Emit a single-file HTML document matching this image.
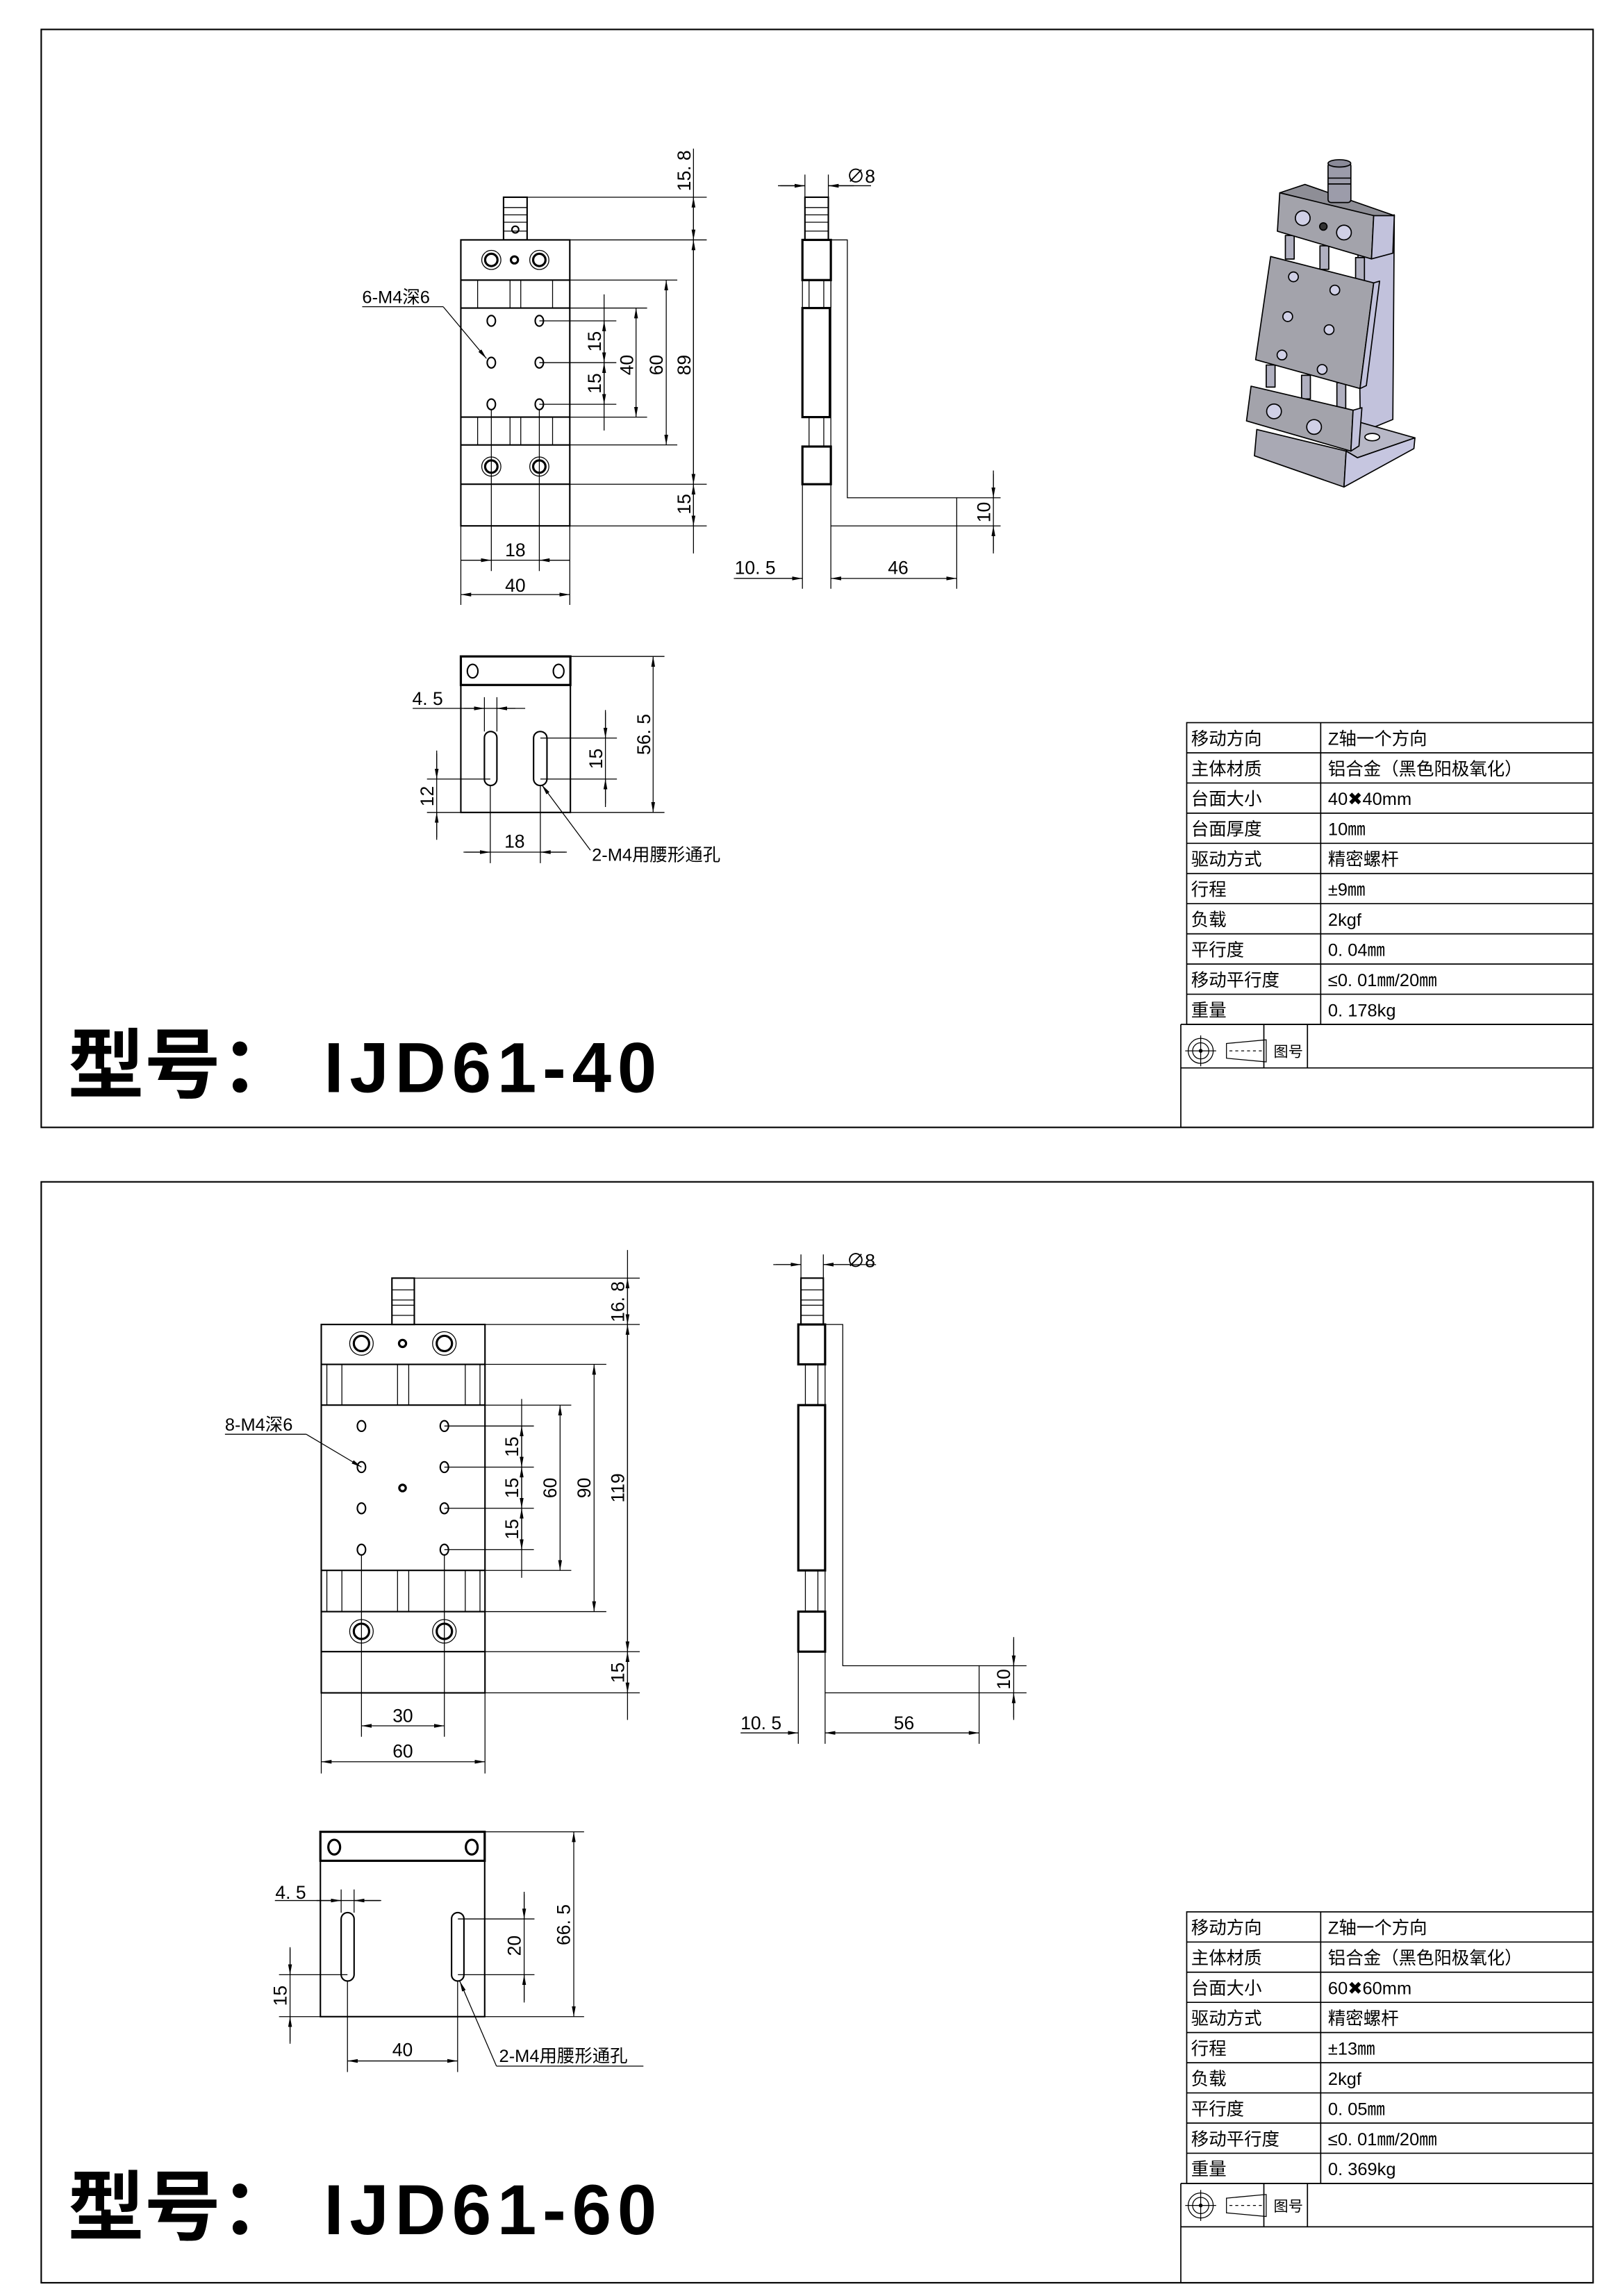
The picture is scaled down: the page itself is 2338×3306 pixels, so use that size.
<!DOCTYPE html>
<html><head><meta charset="utf-8">
<style>
html,body{margin:0;padding:0;background:#fff;}
svg{display:block;}
text{font-family:"Liberation Sans","Noto Sans CJK SC",sans-serif;fill:#000;}
.l{stroke:#000;stroke-width:0.6;fill:none;}
.b{stroke:#000;stroke-width:1;fill:none;}
.bb{stroke:#000;stroke-width:1.5;fill:none;}
.d{font-size:12.5px;}
.t{font-size:12px;font-family:"Liberation Sans","Noto Sans CJK SC",sans-serif;}
.iso{stroke:#000;stroke-width:0.8;stroke-linejoin:round;}
</style></head>
<body>
<svg width="2338" height="3306" viewBox="0 0 1103 1560" preserveAspectRatio="none" xmlns="http://www.w3.org/2000/svg">
<defs>
<marker id="a" markerUnits="userSpaceOnUse" markerWidth="7" markerHeight="3" refX="7" refY="1.3" orient="auto-start-reverse" viewBox="0 0 7 2.6"><path d="M0,0 L7,1.3 L0,2.6 z" fill="#000"/></marker>
</defs>
<rect width="1103" height="1560" fill="#fff"/>

<!-- ============ TOP SHEET ============ -->
<rect x="28" y="20" width="1054" height="746" class="b"/>

<!-- front view -->
<rect x="342" y="134" width="16" height="29" class="b" fill="#fff"/>
<path class="l" d="M342,141H358M342,146H358M342,151H358M342,157H358"/>
<circle cx="350" cy="156" r="2.3" class="b"/>
<rect x="313" y="163" width="74" height="194.3" class="b"/>
<path class="b" d="M313,190.3H387M313,209.3H387M313,283.4H387M313,302.3H387M313,329H387"/>
<path class="l" d="M324.4,190.3V209.3M346.4,190.3V209.3M353.7,190.3V209.3M375.3,190.3V209.3M324.4,283.4V302.3M346.4,283.4V302.3M353.7,283.4V302.3M375.3,283.4V302.3"/>
<circle cx="333.7" cy="176.6" r="6.5" class="l"/><circle cx="333.7" cy="176.6" r="4.2" class="bb"/>
<circle cx="366.3" cy="176.6" r="6.5" class="l"/><circle cx="366.3" cy="176.6" r="4.2" class="bb"/>
<circle cx="349.4" cy="176.6" r="2.4" class="bb"/>
<circle cx="333.7" cy="317" r="6.5" class="l"/><circle cx="333.7" cy="317" r="4.2" class="bb"/>
<circle cx="366.3" cy="317" r="6.5" class="l"/><circle cx="366.3" cy="317" r="4.2" class="bb"/>
<g class="b">
<ellipse cx="333.7" cy="218" rx="2.8" ry="3.6"/><ellipse cx="366.3" cy="218" rx="2.8" ry="3.6"/>
<ellipse cx="333.7" cy="246.4" rx="2.8" ry="3.6"/><ellipse cx="366.3" cy="246.4" rx="2.8" ry="3.6"/>
<ellipse cx="333.7" cy="274.7" rx="2.8" ry="3.6"/><ellipse cx="366.3" cy="274.7" rx="2.8" ry="3.6"/>
</g>
<!-- right dims -->
<path class="l" d="M358,134H480M387,163H480M387,329H480M387,357.3H480M387,190.3H460M387,302.3H460M387,209.3H439.5M387,283.4H439.5M366.3,218H418.6M366.3,246.4H418.6M366.3,274.7H418.6"/>
<path class="l" d="M471,101V376M410.3,200V292.5"/>
<line x1="471" y1="134" x2="471" y2="163" class="l" marker-start="url(#a)" marker-end="url(#a)"/>
<line x1="471" y1="163" x2="471" y2="329" class="l" marker-start="url(#a)" marker-end="url(#a)"/>
<line x1="471" y1="329" x2="471" y2="357.3" class="l" marker-start="url(#a)" marker-end="url(#a)"/>
<line x1="452.5" y1="190.3" x2="452.5" y2="302.3" class="l" marker-start="url(#a)" marker-end="url(#a)"/>
<line x1="432" y1="209.3" x2="432" y2="283.4" class="l" marker-start="url(#a)" marker-end="url(#a)"/>
<line x1="410.3" y1="218" x2="410.3" y2="246.4" class="l" marker-start="url(#a)" marker-end="url(#a)"/>
<line x1="410.3" y1="246.4" x2="410.3" y2="274.7" class="l" marker-start="url(#a)" marker-end="url(#a)"/>
<g class="d" text-anchor="middle">
<text transform="translate(469,116) rotate(-90)">15. 8</text>
<text transform="translate(469,248) rotate(-90)">89</text>
<text transform="translate(469,342.5) rotate(-90)">15</text>
<text transform="translate(450,248) rotate(-90)">60</text>
<text transform="translate(430,248) rotate(-90)">40</text>
<text transform="translate(408,232) rotate(-90)">15</text>
<text transform="translate(408,260.5) rotate(-90)">15</text>
</g>
<!-- bottom dims -->
<path class="l" d="M333.7,278V388M366.3,278V388M313,357V411M387,357V411M313,380.6H387"/>
<line x1="313" y1="380.6" x2="333.7" y2="380.6" class="l" marker-end="url(#a)"/>
<line x1="387" y1="380.6" x2="366.3" y2="380.6" class="l" marker-end="url(#a)"/>
<line x1="313" y1="404" x2="387" y2="404" class="l" marker-start="url(#a)" marker-end="url(#a)"/>
<text x="350" y="378" class="d" text-anchor="middle">18</text>
<text x="350" y="402" class="d" text-anchor="middle">40</text>
<!-- leader -->
<text x="246" y="206" class="t">6-M4深6</text>
<path class="l" d="M246,208.4H301"/>
<line x1="301" y1="208.4" x2="330.4" y2="243.6" class="l" marker-end="url(#a)"/>

<!-- side view top -->
<rect x="546.7" y="134" width="15.9" height="29" class="b" fill="#fff"/>
<path class="l" d="M546.7,141H562.6M546.7,146H562.6M546.7,151H562.6M546.7,157H562.6"/>
<path class="l" d="M546.7,134V118.6M562.6,134V118.6M528.4,126.2H546.7M562.6,126.2H591.6"/>
<line x1="530" y1="126.2" x2="546.7" y2="126.2" class="l" marker-end="url(#a)"/>
<line x1="580" y1="126.2" x2="562.6" y2="126.2" class="l" marker-end="url(#a)"/>
<text x="575" y="124" class="d">∅8</text>
<rect x="545" y="163" width="19.3" height="27.3" class="bb"/>
<path class="l" d="M549.5,190.3V209.3M559.5,190.3V209.3M545,190.3V209.3M564.3,190.3V209.3"/>
<rect x="545" y="209.3" width="18.6" height="74.1" class="bb"/>
<path class="l" d="M549.5,283.4V303.4M559.5,283.4V303.4"/>
<rect x="545" y="303.4" width="19.3" height="25.6" class="bb"/>
<path class="l" d="M545,329V400M564.3,163V400M564.3,163H575.5V338.2H649.8V400M564.3,357.3H649.8"/>
<path class="l" d="M649.8,338.2H679.6M649.8,357.3H679.6M674.7,319.7V376"/>
<line x1="674.7" y1="322" x2="674.7" y2="338.2" class="l" marker-end="url(#a)"/>
<line x1="674.7" y1="374" x2="674.7" y2="357.3" class="l" marker-end="url(#a)"/>
<text transform="translate(672.5,348) rotate(-90)" class="d" text-anchor="middle">10</text>
<path class="l" d="M498.4,393H545"/>
<line x1="500" y1="393" x2="545" y2="393" class="l" marker-end="url(#a)"/>
<line x1="564.3" y1="393" x2="649.8" y2="393" class="l" marker-start="url(#a)" marker-end="url(#a)"/>
<text x="499" y="390" class="d">10. 5</text>
<text x="610" y="390" class="d" text-anchor="middle">46</text>

<!-- bottom view top -->
<rect x="313" y="446" width="74.4" height="106" class="b"/>
<rect x="313" y="446" width="74.4" height="19.4" class="bb"/>
<ellipse cx="321" cy="456" rx="3.6" ry="4.6" class="b"/>
<ellipse cx="379.4" cy="456" rx="3.6" ry="4.6" class="b"/>
<rect x="329" y="497" width="8.5" height="36.7" rx="4.25" class="b"/>
<rect x="362.4" y="497" width="9.1" height="36.7" rx="4.5" class="b"/>
<path class="l" d="M329,473.7V497M337.5,473.7V497M280.3,481.3H356.7"/>
<line x1="315" y1="481.3" x2="329" y2="481.3" class="l" marker-end="url(#a)"/>
<line x1="350" y1="481.3" x2="337.5" y2="481.3" class="l" marker-end="url(#a)"/>
<text x="280" y="479" class="d">4. 5</text>
<path class="l" d="M290,529.3H333M290,552H313M296.6,510V570.6"/>
<line x1="296.6" y1="512" x2="296.6" y2="529.3" class="l" marker-end="url(#a)"/>
<line x1="296.6" y1="569" x2="296.6" y2="552" class="l" marker-end="url(#a)"/>
<text transform="translate(294.5,541) rotate(-90)" class="d" text-anchor="middle">12</text>
<path class="l" d="M367,501.5H419M367,529.3H419M411.2,482.4V548.3"/>
<line x1="411.2" y1="484" x2="411.2" y2="501.5" class="l" marker-end="url(#a)"/>
<line x1="411.2" y1="546" x2="411.2" y2="529.3" class="l" marker-end="url(#a)"/>
<text transform="translate(409,515.5) rotate(-90)" class="d" text-anchor="middle">15</text>
<path class="l" d="M387.4,446H451.3M387.4,552H451.3"/>
<line x1="443.6" y1="446" x2="443.6" y2="552" class="l" marker-start="url(#a)" marker-end="url(#a)"/>
<text transform="translate(441.5,499) rotate(-90)" class="d" text-anchor="middle">56. 5</text>
<path class="l" d="M333,533.7V586.5M367,533.7V586.5M314.8,579H385"/>
<line x1="316" y1="579" x2="333" y2="579" class="l" marker-end="url(#a)"/>
<line x1="384" y1="579" x2="367" y2="579" class="l" marker-end="url(#a)"/>
<text x="349.5" y="576" class="d" text-anchor="middle">18</text>
<line x1="401" y1="577.7" x2="368" y2="533.3" class="l" marker-end="url(#a)"/>
<text x="402" y="585" class="t">2-M4用腰形通孔</text>

<!-- 3D iso -->
<g class="iso">
<polygon points="933,148 947,146 946,285 924,294 922,150" fill="#c2c2dc"/>
<polygon points="853.6,291.8 914.3,306.5 912.8,330.9 852,309.7" fill="#a9a9b4"/>
<polygon points="914.3,306.5 923.7,286.9 961,297.5 922,311" fill="#b7b7c6"/>
<polygon points="922,311 961,297.5 960.3,304.8 912.8,330.9 914.3,306.5" fill="#c6c6e0"/>
<ellipse cx="932" cy="297" rx="5" ry="2.5" fill="#fff"/>
<rect x="873" y="160" width="6" height="16" fill="#b0b0c0"/>
<rect x="896.5" y="167" width="6" height="16" fill="#b0b0c0"/>
<rect x="920.7" y="175" width="6" height="16" fill="#b0b0c0"/>
<rect x="860" y="248" width="6" height="15" fill="#b0b0c0"/>
<rect x="884" y="255" width="6" height="16" fill="#b0b0c0"/>
<rect x="908" y="260" width="6" height="19" fill="#b0b0c0"/>
<polygon points="869.2,131 886.3,125.3 947,146.5 933,147" fill="#8e8e96"/>
<polygon points="869.2,131 933,146.5 931.5,175.9 867.6,157.1" fill="#a3a3ab"/>
<polygon points="933,146.5 947,146.5 946,172 931.5,175.9" fill="#c2c2dc"/>
<polygon points="863,174.3 933,192.2 923.7,264 852.8,244.4" fill="#a3a3ab"/>
<polygon points="933,192.2 937,191 928,262 923.7,264" fill="#c2c2dc"/>
<polygon points="849.7,262.4 919,278.7 917.5,306.5 846.6,286" fill="#a3a3ab"/>
<polygon points="919,278.7 925,277 923,303 917.5,306.5" fill="#c2c2dc"/>
<rect x="902" y="110.6" width="15.5" height="27" rx="2" fill="#9c9caa"/>
<ellipse cx="909.7" cy="111" rx="7.7" ry="2.5" fill="#8a8a98"/>
<path d="M902,121H917.5M902,125H917.5" fill="none"/>
<circle cx="884.8" cy="148.2" r="5" fill="#d0d0e6"/><circle cx="912.8" cy="158" r="5" fill="#d0d0e6"/>
<circle cx="898.8" cy="153.9" r="2.5" fill="#333"/>
<circle cx="878.5" cy="188.1" r="3.3" fill="#d0d0e6"/><circle cx="906.6" cy="197.1" r="3.3" fill="#d0d0e6"/>
<circle cx="874.6" cy="215.1" r="3.3" fill="#d0d0e6"/><circle cx="902.7" cy="224" r="3.3" fill="#d0d0e6"/>
<circle cx="870.7" cy="241.2" r="3.3" fill="#d0d0e6"/><circle cx="898" cy="251" r="3.3" fill="#d0d0e6"/>
<circle cx="865.3" cy="279.5" r="5" fill="#d0d0e6"/><circle cx="892.5" cy="290.1" r="5" fill="#d0d0e6"/>
</g>

<!-- table top -->
<g class="l" style="stroke-width:0.8">
<rect x="806" y="491" width="276" height="205"/>
<path d="M897,491V696M806,511.5H1082M806,532H1082M806,552.5H1082M806,573H1082M806,593.5H1082M806,614H1082M806,634.5H1082M806,655H1082M806,675.5H1082"/>
<path d="M802,696H1082M802,696V766M802,725.6H1082M858.4,696V725.6M888,696V725.6"/>
</g>
<g class="t">
<text x="809" y="506">移动方向</text><text x="902" y="506">Z轴一个方向</text>
<text x="809" y="526.5">主体材质</text><text x="902" y="526.5">铝合金（黑色阳极氧化）</text>
<text x="809" y="547">台面大小</text><text x="902" y="547">40✖40mm</text>
<text x="809" y="567.5">台面厚度</text><text x="902" y="567.5">10㎜</text>
<text x="809" y="588">驱动方式</text><text x="902" y="588">精密螺杆</text>
<text x="809" y="608.5">行程</text><text x="902" y="608.5">±9㎜</text>
<text x="809" y="629">负载</text><text x="902" y="629">2kgf</text>
<text x="809" y="649.5">平行度</text><text x="902" y="649.5">0. 04㎜</text>
<text x="809" y="670">移动平行度</text><text x="902" y="670">≤0. 01㎜/20㎜</text>
<text x="809" y="690.5">重量</text><text x="902" y="690.5">0. 178kg</text>
</g>
<g class="l">
<circle cx="815.5" cy="714" r="8.5"/><circle cx="815.5" cy="714" r="5.5"/><circle cx="815.5" cy="714" r="1" fill="#000"/>
<path d="M805,714H826M815.5,703.5V724.5"/>
<polygon points="833,709 860,706.5 860,721.5 833,719"/>
<path d="M835,714H858" stroke-dasharray="2,2"/>
</g>
<text x="865" y="718" style="font-size:10px">图号</text>
<text x="46" y="742" style="font-size:52px;font-weight:bold;font-family:'Noto Sans CJK SC',sans-serif">型号：</text>
<text x="220" y="742" style="font-size:48px;font-weight:bold" textLength="226" lengthAdjust="spacing">IJD61-40</text>

<!-- ============ BOTTOM SHEET ============ -->
<rect x="28" y="803" width="1054" height="748" class="b"/>

<!-- front view -->
<rect x="266.2" y="868.4" width="15.2" height="31.5" class="b" fill="#fff"/>
<path class="l" d="M266.2,876.4H281.4M266.2,883.3H281.4M266.2,886.8H281.4M266.2,893.7H281.4"/>
<rect x="218.2" y="899.9" width="111.2" height="250.3" class="b"/>
<path class="b" d="M218.2,927H329.4M218.2,954.7H329.4M218.2,1067H329.4M218.2,1095H329.4M218.2,1122.2H329.4"/>
<path class="l" d="M222,927V954.7M232.2,927V954.7M270,927V954.7M277.6,927V954.7M316,927V954.7M326,927V954.7M222,1067V1095M232.2,1067V1095M270,1067V1095M277.6,1067V1095M316,1067V1095M326,1067V1095"/>
<circle cx="245.5" cy="912.8" r="8" class="l"/><circle cx="245.5" cy="912.8" r="5.2" class="bb"/>
<circle cx="301.8" cy="912.8" r="8" class="l"/><circle cx="301.8" cy="912.8" r="5.2" class="bb"/>
<circle cx="273.4" cy="912.8" r="2.4" class="bb"/>
<circle cx="245.5" cy="1108.4" r="8" class="l"/><circle cx="245.5" cy="1108.4" r="5.2" class="bb"/>
<circle cx="301.8" cy="1108.4" r="8" class="l"/><circle cx="301.8" cy="1108.4" r="5.2" class="bb"/>
<g class="b">
<ellipse cx="245.5" cy="968.9" rx="2.8" ry="3.6"/><ellipse cx="301.8" cy="968.9" rx="2.8" ry="3.6"/>
<ellipse cx="245.5" cy="996.8" rx="2.8" ry="3.6"/><ellipse cx="301.8" cy="996.8" rx="2.8" ry="3.6"/>
<ellipse cx="245.5" cy="1024.8" rx="2.8" ry="3.6"/><ellipse cx="301.8" cy="1024.8" rx="2.8" ry="3.6"/>
<ellipse cx="245.5" cy="1052.9" rx="2.8" ry="3.6"/><ellipse cx="301.8" cy="1052.9" rx="2.8" ry="3.6"/>
</g>
<circle cx="273.4" cy="1011" r="2.2" class="bb"/>
<path class="l" d="M281.4,868.4H434.5M329.4,899.9H434.5M329.4,1122.2H434.5M329.4,1150.2H434.5M329.4,927H411.8M329.4,1095H411.8M329.4,954.7H388M329.4,1067H388M301.8,968.9H362.6M301.8,996.8H362.6M301.8,1024.8H362.6M301.8,1052.9H362.6"/>
<path class="l" d="M426.2,849.3V1168.6M354.3,950.5V1072"/>
<line x1="426.2" y1="868.4" x2="426.2" y2="899.9" class="l" marker-start="url(#a)" marker-end="url(#a)"/>
<line x1="426.2" y1="899.9" x2="426.2" y2="1122.2" class="l" marker-start="url(#a)" marker-end="url(#a)"/>
<line x1="426.2" y1="1122.2" x2="426.2" y2="1150.2" class="l" marker-start="url(#a)" marker-end="url(#a)"/>
<line x1="403.5" y1="927" x2="403.5" y2="1095" class="l" marker-start="url(#a)" marker-end="url(#a)"/>
<line x1="380.4" y1="954.7" x2="380.4" y2="1067" class="l" marker-start="url(#a)" marker-end="url(#a)"/>
<line x1="354.3" y1="968.9" x2="354.3" y2="996.8" class="l" marker-start="url(#a)" marker-end="url(#a)"/>
<line x1="354.3" y1="996.8" x2="354.3" y2="1024.8" class="l" marker-start="url(#a)" marker-end="url(#a)"/>
<line x1="354.3" y1="1024.8" x2="354.3" y2="1052.9" class="l" marker-start="url(#a)" marker-end="url(#a)"/>
<g class="d" text-anchor="middle">
<text transform="translate(424,884.5) rotate(-90)">16. 8</text>
<text transform="translate(424,1011) rotate(-90)">119</text>
<text transform="translate(424,1136.5) rotate(-90)">15</text>
<text transform="translate(401,1011) rotate(-90)">90</text>
<text transform="translate(378,1011) rotate(-90)">60</text>
<text transform="translate(352,983) rotate(-90)">15</text>
<text transform="translate(352,1011) rotate(-90)">15</text>
<text transform="translate(352,1039) rotate(-90)">15</text>
</g>
<path class="l" d="M245.5,1056V1180M301.8,1056V1180M218.2,1150V1205M329.4,1150V1205"/>
<line x1="245.5" y1="1172.6" x2="301.8" y2="1172.6" class="l" marker-start="url(#a)" marker-end="url(#a)"/>
<line x1="218.2" y1="1197" x2="329.4" y2="1197" class="l" marker-start="url(#a)" marker-end="url(#a)"/>
<text x="273.6" y="1170" class="d" text-anchor="middle">30</text>
<text x="273.6" y="1194" class="d" text-anchor="middle">60</text>
<text x="152.8" y="972" class="t">8-M4深6</text>
<path class="l" d="M152.8,974.5H208"/>
<line x1="208" y1="974.5" x2="245.5" y2="996.8" class="l" marker-end="url(#a)"/>

<!-- side view bottom -->
<rect x="544" y="868.4" width="15.2" height="31.5" class="b" fill="#fff"/>
<path class="l" d="M544,876.4H559.2M544,883.3H559.2M544,886.8H559.2M544,893.7H559.2"/>
<path class="l" d="M544,868.4V852.3M559.2,868.4V852.3M525.2,859.2H544M559.2,859.2H595"/>
<line x1="527" y1="859.2" x2="544" y2="859.2" class="l" marker-end="url(#a)"/>
<line x1="577" y1="859.2" x2="559.2" y2="859.2" class="l" marker-end="url(#a)"/>
<text x="575" y="861" class="d">∅8</text>
<rect x="542.2" y="899.9" width="18.2" height="27.1" class="bb"/>
<path class="l" d="M547,927V954.7M555.5,927V954.7M547,1067V1095M555.5,1067V1095"/>
<rect x="542.2" y="954.7" width="18.2" height="112.3" class="bb"/>
<rect x="542.2" y="1095" width="18.2" height="27.2" class="bb"/>
<path class="l" d="M542.2,1122.2V1184.8M560.4,899.9V1184.8M560.4,899.9H572.4V1131.8H665V1184.8M560.4,1150.2H665"/>
<path class="l" d="M665,1131.8H697.2M665,1150.2H697.2M688.5,1112.3V1168.6"/>
<line x1="688.5" y1="1114" x2="688.5" y2="1131.8" class="l" marker-end="url(#a)"/>
<line x1="688.5" y1="1167" x2="688.5" y2="1150.2" class="l" marker-end="url(#a)"/>
<text transform="translate(686,1141) rotate(-90)" class="d" text-anchor="middle">10</text>
<line x1="503" y1="1177.4" x2="542.2" y2="1177.4" class="l" marker-end="url(#a)"/>
<line x1="560.4" y1="1177.4" x2="665" y2="1177.4" class="l" marker-start="url(#a)" marker-end="url(#a)"/>
<text x="503" y="1175" class="d">10. 5</text>
<text x="614" y="1175" class="d" text-anchor="middle">56</text>

<!-- bottom view bottom -->
<rect x="217.6" y="1244.6" width="111.6" height="125.6" class="b"/>
<rect x="217.6" y="1244.6" width="111.6" height="19.7" class="bb"/>
<ellipse cx="227" cy="1255" rx="4" ry="5" class="bb"/>
<ellipse cx="320.4" cy="1255" rx="4" ry="5" class="bb"/>
<rect x="231.7" y="1299.5" width="8.8" height="46.5" rx="4.4" class="b"/>
<rect x="306.7" y="1299.5" width="8.4" height="46.5" rx="4.2" class="b"/>
<path class="l" d="M231.7,1283.8V1299.5M240.5,1283.8V1299.5M186.7,1291.3H258.9"/>
<line x1="215" y1="1291.3" x2="231.7" y2="1291.3" class="l" marker-end="url(#a)"/>
<line x1="258" y1="1291.3" x2="240.5" y2="1291.3" class="l" marker-end="url(#a)"/>
<text x="187" y="1290" class="d">4. 5</text>
<path class="l" d="M189.5,1341.7H236M189.5,1370.2H217.6M197,1323V1388.6"/>
<line x1="197" y1="1324" x2="197" y2="1341.7" class="l" marker-end="url(#a)"/>
<line x1="197" y1="1387" x2="197" y2="1370.2" class="l" marker-end="url(#a)"/>
<text transform="translate(194.5,1356) rotate(-90)" class="d" text-anchor="middle">15</text>
<path class="l" d="M311,1303.8H363M311,1341.7H363M356,1285.4V1360.6"/>
<line x1="356" y1="1287" x2="356" y2="1303.8" class="l" marker-end="url(#a)"/>
<line x1="356" y1="1359" x2="356" y2="1341.7" class="l" marker-end="url(#a)"/>
<text transform="translate(353.5,1322) rotate(-90)" class="d" text-anchor="middle">20</text>
<path class="l" d="M329.2,1244.6H396.7M329.2,1370.2H396.7"/>
<line x1="389.7" y1="1244.6" x2="389.7" y2="1370.2" class="l" marker-start="url(#a)" marker-end="url(#a)"/>
<text transform="translate(387,1307.8) rotate(-90)" class="d" text-anchor="middle">66. 5</text>
<path class="l" d="M236,1346V1407.8M310.8,1346V1407.8"/>
<line x1="236" y1="1400.3" x2="310.8" y2="1400.3" class="l" marker-start="url(#a)" marker-end="url(#a)"/>
<text x="273.4" y="1397" class="d" text-anchor="middle">40</text>
<line x1="337.2" y1="1403.8" x2="312.3" y2="1346.2" class="l" marker-end="url(#a)"/>
<path class="l" d="M337.2,1403.8H437"/>
<text x="339" y="1401" class="t">2-M4用腰形通孔</text>

<!-- table bottom -->
<g class="l" style="stroke-width:0.8">
<rect x="806" y="1299" width="276" height="184.5"/>
<path d="M897,1299V1483.5M806,1319.5H1082M806,1340H1082M806,1360.5H1082M806,1381H1082M806,1401.5H1082M806,1422H1082M806,1442.5H1082M806,1463H1082"/>
<path d="M802,1483.5H1082M802,1483.5V1551M802,1513H1082M858.4,1483.5V1513M888,1483.5V1513"/>
</g>
<g class="t">
<text x="809" y="1314">移动方向</text><text x="902" y="1314">Z轴一个方向</text>
<text x="809" y="1334.5">主体材质</text><text x="902" y="1334.5">铝合金（黑色阳极氧化）</text>
<text x="809" y="1355">台面大小</text><text x="902" y="1355">60✖60mm</text>
<text x="809" y="1375.5">驱动方式</text><text x="902" y="1375.5">精密螺杆</text>
<text x="809" y="1396">行程</text><text x="902" y="1396">±13㎜</text>
<text x="809" y="1416.5">负载</text><text x="902" y="1416.5">2kgf</text>
<text x="809" y="1437">平行度</text><text x="902" y="1437">0. 05㎜</text>
<text x="809" y="1457.5">移动平行度</text><text x="902" y="1457.5">≤0. 01㎜/20㎜</text>
<text x="809" y="1478">重量</text><text x="902" y="1478">0. 369kg</text>
</g>
<g class="l">
<circle cx="815.5" cy="1498.5" r="8.5"/><circle cx="815.5" cy="1498.5" r="5.5"/><circle cx="815.5" cy="1498.5" r="1" fill="#000"/>
<path d="M805,1498.5H826M815.5,1488V1509"/>
<polygon points="833,1493.5 860,1491 860,1506 833,1503.5"/>
<path d="M835,1498.5H858" stroke-dasharray="2,2"/>
</g>
<text x="865" y="1502.5" style="font-size:10px">图号</text>
<text x="46" y="1518" style="font-size:52px;font-weight:bold;font-family:'Noto Sans CJK SC',sans-serif">型号：</text>
<text x="220" y="1518" style="font-size:48px;font-weight:bold" textLength="226" lengthAdjust="spacing">IJD61-60</text>
</svg>
</body></html>
